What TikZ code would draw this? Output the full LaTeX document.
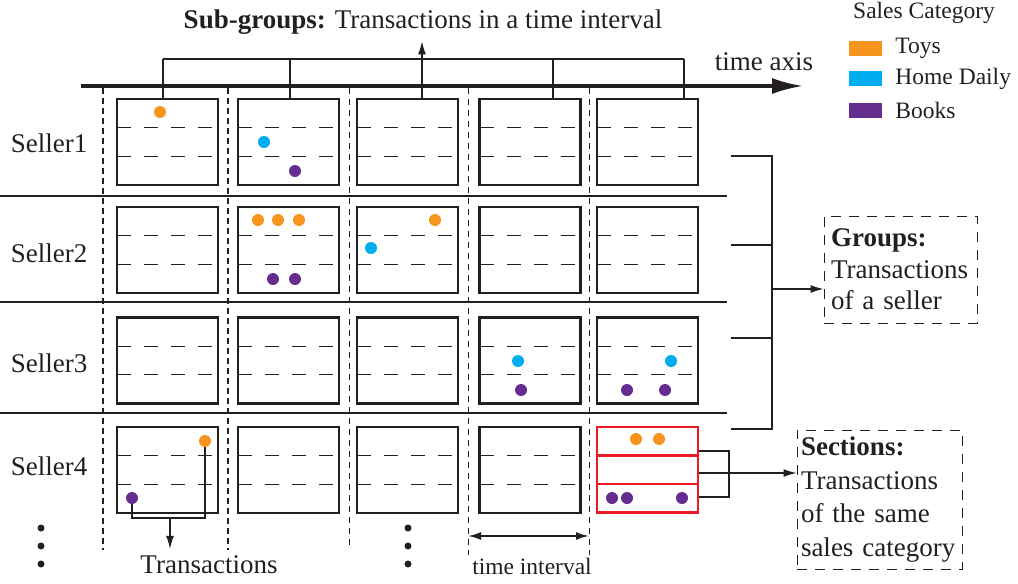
\documentclass[tikz,border=0pt]{standalone}
\usepackage{fontspec}
\setmainfont{Liberation Serif}
\usetikzlibrary{arrows.meta,calc,positioning}
\definecolor{toycolor}{HTML}{F7941D}
\definecolor{homecolor}{HTML}{00AEEF}
\definecolor{bookcolor}{HTML}{662D91}
\definecolor{sectioncolor}{HTML}{ED1C24}
\definecolor{ink}{HTML}{231F20}

\begin{document}
\begin{tikzpicture}[
        x = 0.5pt,
        y = -0.5pt,
        every node/.append style={
          font = \fontsize{13.5}{15.75}\selectfont,
          text = ink,
        },
        small text/.style={
          font = \fontsize{11.75}{14}\selectfont,
        },
        cell/.style={
          draw = ink,
          line width = 1.45pt,
          minimum width = 50.5pt,
          minimum height = 43pt,
          inner sep = 0pt,
          path picture = {
            \draw [cell rule] ($(path picture bounding box.west) + (0,7.17pt)$) -- ($(path picture bounding box.east) + (0,7.17pt)$);
            \draw [cell rule] ($(path picture bounding box.west) + (0,-7.17pt)$) -- ($(path picture bounding box.east) + (0,-7.17pt)$);
          },
        },
        cell rule/.style={
          draw = ink,
          line width = 0.6pt,
          dash pattern = on 7pt off 6.5pt,
        },
        sect box/.style={
          draw = sectioncolor,
          line width = 1.45pt,
          minimum width = 50.5pt,
          minimum height = 14.25pt,
          inner sep = 0pt,
        },
        item/.style={
          circle,
          inner sep = 0pt,
          minimum size = 6pt,
        },
        toy/.style = {item, fill = toycolor},
        home/.style = {item, fill = homecolor},
        book/.style = {item, fill = bookcolor},
        swatch/.style={
          minimum width = 16.5pt,
          minimum height = 7.5pt,
          inner sep = 0pt,
        },
        note/.style={
          draw = ink,
          line width = 0.5pt,
          dash pattern = on 5pt off 4pt,
          align = left,
          inner ysep = 2pt,
        },
        link/.style={
          draw = ink,
          line width = 0.6pt,
        },
        link arrow/.style={
          -{Latex[length = 6.5pt, width = 4pt]},
        },
        ]
        \useasboundingbox (0,0) rectangle (1018,584);

        \node (subgroups) at (423,22) {\textbf{Sub-groups:} Transactions in a time interval};
        \node (timeaxis) at (764,62) {time axis};
        \coordinate (axisstart) at (81,86);
        \coordinate (axisend) at (803,86);
        \draw [ink, line width = 1.6pt, -{Latex[length = 15.5pt, width = 8pt]}] (axisstart) -- (axisend);

        \node [small text] (legendtitle) at (924,13) {Sales Category};
        \node [swatch, fill = toycolor] (swtoy) at (865.5,48.5) {};
        \node [swatch, fill = homecolor] (swhome) at (865.5,78.5) {};
        \node [swatch, fill = bookcolor] (swbook) at (865.5,110.5) {};
        \node [small text, right = 3pt of swtoy] (lgtoy) {Toys};
        \node [small text, right = 3pt of swhome] (lghome) {Home Daily};
        \node [small text, right = 3pt of swbook] (lgbook) {Books};

        \node (seller1) at (49,143) {Seller1};
        \node (seller2) at (49,253) {Seller2};
        \node (seller3) at (49,363) {Seller3};
        \node (seller4) at (49,466) {Seller4};

        \draw [ink, line width = 1.3pt] (0,196) -- (727,196);
        \draw [ink, line width = 0.6pt] (0,302) -- (727,302);
        \draw [ink, line width = 1.3pt] (0,413) -- (727,413);
        \draw [ink, line width = 1.1pt, dash pattern = on 3pt off 2pt] (103,88) -- (103,550) (228,88) -- (228,550);
        \draw [ink, line width = 0.5pt, dash pattern = on 3pt off 2.5pt] (349,88) -- (349,545) (468,88) -- (468,555) (589,88) -- (589,555);

        \node [cell] (c11) at (167.5,142) {};
        \node [cell] (c12) at (288.5,142) {};
        \node [cell] (c13) at (407.5,142) {};
        \node [cell] (c14) at (530,142) {};
        \node [cell] (c15) at (647.5,142) {};
        \node [cell] (c21) at (167.5,250) {};
        \node [cell] (c22) at (288.5,250) {};
        \node [cell] (c23) at (407.5,250) {};
        \node [cell] (c24) at (530,250) {};
        \node [cell] (c25) at (647.5,250) {};
        \node [cell] (c31) at (167.5,360.5) {};
        \node [cell] (c32) at (288.5,360.5) {};
        \node [cell] (c33) at (407.5,360.5) {};
        \node [cell] (c34) at (530,360.5) {};
        \node [cell] (c35) at (647.5,360.5) {};
        \node [cell] (c41) at (167.5,470) {};
        \node [cell] (c42) at (288.5,470) {};
        \node [cell] (c43) at (407.5,470) {};
        \node [cell] (c44) at (530,470) {};
        \node [sect box] (s1) at (647.5,441.25) {};
        \node [sect box] (s2) at (647.5,469.75) {};
        \node [sect box] (s3) at (647.5,498.25) {};

        \coordinate (sg1) at (163,59);
        \coordinate (sg2) at (290,59);
        \coordinate (sg3) at (422,59);
        \coordinate (sg4) at (553,59);
        \coordinate (sg5) at (684,59);
        \draw [link] (sg1) -- (sg5);
        \draw [link] (sg1) -- (sg1 |- c11.north);
        \draw [link] (sg2) -- (sg2 |- c12.north);
        \draw [link] (sg3) -- (sg3 |- c13.north);
        \draw [link] (sg4) -- (sg4 |- c14.north);
        \draw [link] (sg5) -- (sg5 |- c15.north);
        \draw [link, link arrow] (sg3) -- (sg3 |- subgroups.south);

        \node [toy] (toy1) at (160,112) {};
        \node [home] (home1) at (264,142) {};
        \node [book] (book1) at (295,171) {};
        \node [toy] (toy2) at (258,220) {};
        \node [toy] (toy3) at (278,220) {};
        \node [toy] (toy4) at (299,220) {};
        \node [book] (book2) at (273,279) {};
        \node [book] (book3) at (295,279) {};
        \node [toy] (toy5) at (435,220) {};
        \node [home] (home2) at (371,248) {};
        \node [home] (home3) at (518,361) {};
        \node [book] (book4) at (521,390) {};
        \node [home] (home4) at (671,361) {};
        \node [book] (book5) at (627,390) {};
        \node [book] (book6) at (665,390) {};
        \node [toy] (toy6) at (205,441) {};
        \node [book] (book7) at (132,498) {};
        \node [toy] (toy7) at (636,439) {};
        \node [toy] (toy8) at (659,439) {};
        \node [book] (book8) at (612,498) {};
        \node [book] (book9) at (627,498) {};
        \node [book] (book10) at (682,498) {};

        \node (transactions) at (209,565) {Transactions};
        \coordinate (transjoin) at (170,518);
        \draw [link] (book7) -- (book7 |- transjoin) -| (toy6);
        \draw [link, link arrow] (transjoin) -- (transjoin |- transactions.north);

        \coordinate (intervalstart) at (468,536);
        \coordinate (intervalend) at (589,536);
        \draw [ink, line width = 1pt, {Latex[length = 6.5pt, width = 4pt]}-{Latex[length = 6.5pt, width = 4pt]}] (intervalstart) -- (intervalend);
        \node [small text] (timeinterval) at (532,566) {time interval};

        \fill [ink] (41,528) circle (1.75pt) (41,546) circle (1.75pt) (41,564) circle (1.75pt);
        \fill [ink] (408,528) circle (1.75pt) (408,546) circle (1.75pt) (408,564) circle (1.75pt);

        \node [note, text width = 69.5pt, inner xsep = 3.5pt, minimum height = 53.5pt] (groups) at (900.5,269.5) {\textbf{Groups:}\\Transactions\\of a seller};
        \node [note, text width = 78.5pt, inner xsep = 2pt, minimum height = 69.5pt, font = \fontsize{13.5}{16.8}\selectfont] (sections) at (879.5,499.5) {\textbf{Sections:}\\Transactions\\of the same\\sales category};

        \coordinate (gr1) at (731,156);
        \coordinate (gr2) at (731,245);
        \coordinate (gr3) at (731,338);
        \coordinate (gr4) at (731,429);
        \coordinate (grjoin) at (772,289);
        \draw [link] (gr1) -- (gr1 -| grjoin) -- (gr4 -| grjoin) -- (gr4);
        \draw [link] (gr2) -- (gr2 -| grjoin);
        \draw [link] (gr3) -- (gr3 -| grjoin);
        \draw [link, link arrow] (grjoin) -- (grjoin -| groups.west);

        \coordinate (sc1) at (729,451);
        \coordinate (sc2) at (729,473);
        \coordinate (sc3) at (729,497);
        \draw [link] (s1.east |- sc1) -- (sc1) -- (sc3) -- (s3.east |- sc3);
        \draw [link, link arrow] (s2.east |- sc2) -- (sc2 -| sections.west);
\end{tikzpicture}
\end{document}
